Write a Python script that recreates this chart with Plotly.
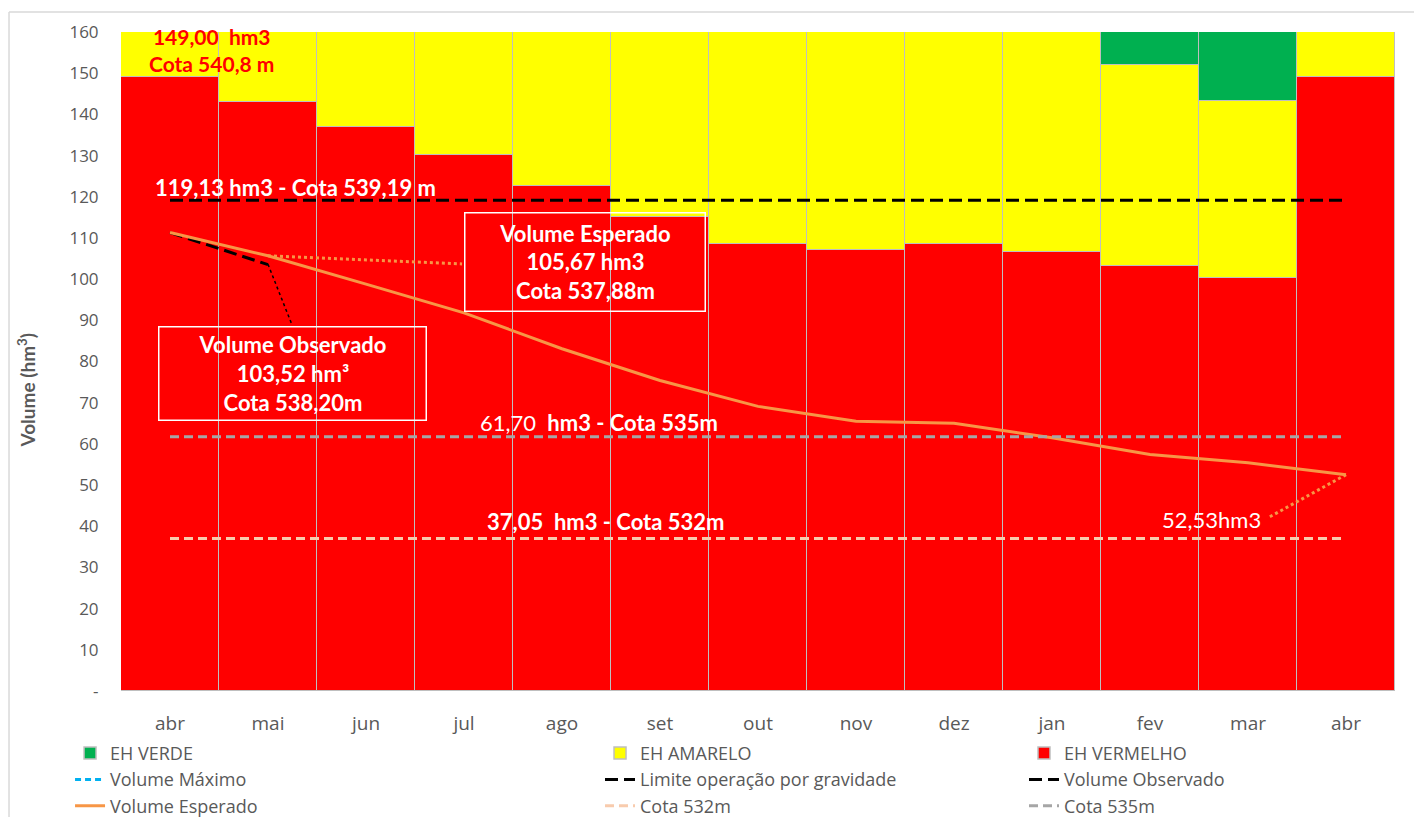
import plotly.graph_objects as go

months = ["abr", "mai", "jun", "jul", "ago", "set", "out", "nov", "dez", "jan", "fev", "mar", "abr"]
eh_vermelho = [149.0, 143.1, 136.9, 130.2, 122.6, 115.2, 108.6, 107.1, 108.5, 106.6, 103.2, 100.3, 149.0]
eh_amarelo = [11.0, 16.9, 23.1, 29.8, 37.4, 44.8, 51.4, 52.9, 51.5, 53.4, 48.8, 43.0, 11.0]
eh_verde = [0, 0, 0, 0, 0, 0, 0, 0, 0, 0, 8.0, 16.7, 0]
volume_esperado = [111.3, 105.67, 98.8, 91.8, 83.1, 75.4, 69.1, 65.5, 65.0, 61.5, 57.4, 55.4, 52.53]
volume_observado = [111.3, 103.52]
volume_maximo = [None] * 13
limite_gravidade = [119.13] * 13
cota_532 = [37.05] * 13
cota_535 = [61.70] * 13
yticks = list(range(0, 161, 10))
yticklabels = ["-"] + [str(v) for v in yticks[1:]]

x = list(range(len(months)))
GRAY = "#595959"
FONT = "Lato"
TICKFONT = "Open Sans"

fig = go.Figure()
bar_line = dict(color="#BFBFBF", width=1.5)
fig.add_bar(x=x, y=eh_vermelho, name="EH VERMELHO", marker=dict(color="#FF0000", line=bar_line), legend="legend3")
fig.add_bar(x=x, y=eh_amarelo, name="EH AMARELO", marker=dict(color="#FFFF00", line=bar_line), legend="legend2")
fig.add_bar(x=x, y=eh_verde, name="EH VERDE", marker=dict(color="#00B050", line=bar_line), legend="legend")

fig.add_scatter(x=x, y=volume_maximo, name="Volume Máximo", mode="lines",
                line=dict(color="#00B0F0", width=3, dash="6px,4px"), legend="legend")
fig.add_scatter(x=x, y=limite_gravidade, name="Limite operação por gravidade", mode="lines",
                line=dict(color="#000000", width=3, dash="13px,6px"), legend="legend2")
fig.add_scatter(x=x[:2], y=volume_observado, name="Volume Observado", mode="lines",
                line=dict(color="#000000", width=3, dash="13px,6px"), legend="legend3")
fig.add_scatter(x=x, y=volume_esperado, name="Volume Esperado", mode="lines",
                line=dict(color="#F79646", width=3), legend="legend")
fig.add_scatter(x=x, y=cota_532, name="Cota 532m", mode="lines",
                line=dict(color="#F8CBAD", width=3, dash="9px,5px"), legend="legend2")
fig.add_scatter(x=x, y=cota_535, name="Cota 535m", mode="lines",
                line=dict(color="#A6A6A6", width=3, dash="9px,5px"), legend="legend3")

# leader lines
fig.add_shape(type="line", x0=1, y0=volume_esperado[1], x1=2.98, y1=103.7,
              line=dict(color="#F79646", width=3, dash="dot"))
fig.add_shape(type="line", x0=1, y0=103.6, x1=1.245, y1=88.9,
              line=dict(color="#000000", width=1.5, dash="dot"))
fig.add_shape(type="line", x0=12, y0=volume_esperado[12], x1=11.2, y1=42.0,
              line=dict(color="#F79646", width=3, dash="dot"))

# outer chart-area frame (top and left edges visible in the reference)
frame = dict(color="#D9D9D9", width=1.5)
fig.add_shape(type="line", xref="paper", yref="paper", x0=-0.0879, x1=1.2, y0=1.0302, y1=1.0302,
              line=frame, layer="below")
fig.add_shape(type="line", xref="paper", yref="paper", x0=-0.0879, x1=-0.0879, y0=-0.4, y1=1.0302,
              line=frame, layer="below")

white_b = dict(family=FONT, size=22, color="white")
fig.add_annotation(x=0.42, y=155.6, text="<b>149,00  hm3<br>Cota 540,8 m</b>", showarrow=False,
                   font=dict(family=FONT, size=21, color="#FF0000"))
fig.add_annotation(x=1.28, y=122.3, text="<b>119,13 hm3 - Cota 539,19 m</b>", showarrow=False, font=white_b)
fig.add_annotation(x=4.38, y=65.3, text="61,70  <b>hm3 - Cota 535m</b>", showarrow=False, font=white_b)
fig.add_annotation(x=4.45, y=41.1, text="<b>37,05  hm3 - Cota 532m</b>", showarrow=False, font=white_b)
fig.add_annotation(x=10.63, y=41.6, text="52,53hm3", showarrow=False, font=white_b)
fig.add_annotation(x=4.23, y=104.05, text="<b>Volume Esperado<br>105,67 hm3<br>Cota 537,88m</b>",
                   showarrow=False, font=white_b, width=239, height=97, bordercolor="white",
                   borderwidth=1.5, borderpad=0, bgcolor="rgba(0,0,0,0)")
fig.add_annotation(x=1.245, y=77.1, text="<b>Volume Observado<br>103,52 hm³<br>Cota 538,20m</b>",
                   showarrow=False, font=white_b, width=266, height=92, bordercolor="white",
                   borderwidth=1.5, borderpad=0, bgcolor="rgba(0,0,0,0)")
# y-axis title (placed like the reference, slightly below the plot's middle)
fig.add_annotation(xref="paper", x=-0.0738, xanchor="center", y=73.2, yanchor="middle",
                   text="<b>Volume (hm<sup>3</sup>)</b>", textangle=-90,
                   showarrow=False, font=dict(family=FONT, size=19, color=GRAY))

leg_common = dict(orientation="v", yanchor="top", y=-0.0665, xanchor="left",
                  font=dict(family=TICKFONT, size=18, color=GRAY), bgcolor="rgba(0,0,0,0)",
                  tracegroupgap=0, itemwidth=30, traceorder="normal")

fig.update_layout(
    width=1422, height=840,
    margin=dict(l=113, r=35, t=20, b=157),
    paper_bgcolor="white", plot_bgcolor="white",
    barmode="stack", bargap=0,
    showlegend=True,
    legend=dict(leg_common, x=-0.040),
    legend2=dict(leg_common, x=0.376),
    legend3=dict(leg_common, x=0.7088),
    xaxis=dict(range=[-0.5, 12.5], tickvals=x, ticktext=months, showgrid=False, zeroline=False,
               ticks="outside", ticklen=15, tickcolor="rgba(0,0,0,0)",
               tickfont=dict(family=TICKFONT, size=19, color=GRAY), fixedrange=True),
    yaxis=dict(range=[0, 160], tickvals=yticks, ticktext=yticklabels, showgrid=False, zeroline=False,
               ticks="outside", ticklen=18, tickcolor="rgba(0,0,0,0)",
               tickfont=dict(family=TICKFONT, size=17, color=GRAY)),
)

fig.write_html("out.html",
               post_script="document.documentElement.style.overflow='hidden';document.body.style.overflow='hidden';")
